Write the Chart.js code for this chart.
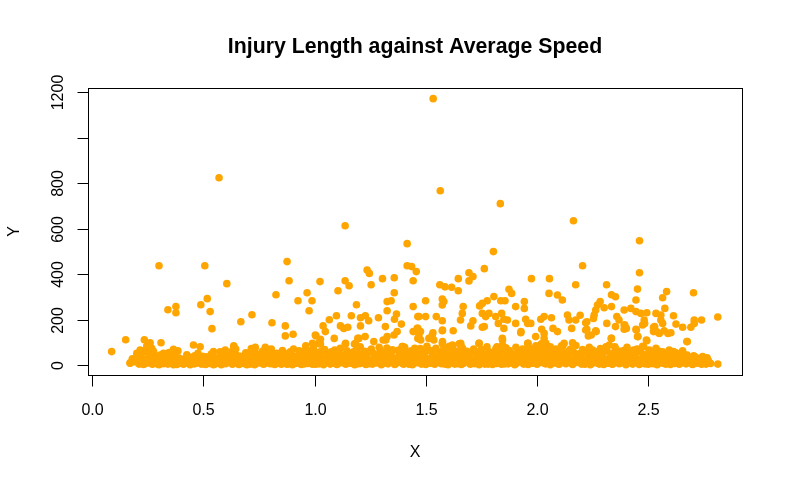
<!DOCTYPE html>
<html>
<head>
<meta charset="utf-8">
<title>Injury Length against Average Speed</title>
<script src="https://cdn.jsdelivr.net/npm/chart.js@4.4.1/dist/chart.umd.min.js"></script>
<style>
    html, body { margin: 0; padding: 0; background: #ffffff; }
    canvas { display: block; }
</style>
</head>
<body>
<canvas id="scatterChart" width="787" height="486"></canvas>
<script>
'use strict';

// ============================================================================
// DATA  (average speed, injury length) pairs
// ============================================================================

/** Isolated high values */
const outlierPoints = [
    [0.57, 824], [1.533, 1172], [1.565, 767], [1.835, 710], [2.164, 635],
    [1.137, 613], [2.461, 547], [1.416, 534], [1.804, 499], [0.876, 455],
    [0.300, 437], [0.506, 437], [2.205, 437], [1.416, 437], [1.436, 433],
    [1.763, 424], [1.236, 418], [1.457, 411], [2.461, 406], [1.694, 406],
    [1.246, 403], [1.712, 389], [1.358, 384], [1.305, 380], [1.975, 380],
    [2.056, 380], [1.646, 380], [0.885, 371], [1.137, 371], [1.443, 371],
    [1.694, 370], [1.024, 367], [0.605, 358], [1.254, 353], [1.563, 353],
    [2.174, 353], [2.313, 353], [1.155, 349], [1.586, 344], [1.616, 342],
    [2.452, 334], [1.874, 333], [1.105, 327], [1.646, 327], [2.583, 323],
    [0.966, 318], [1.358, 318], [2.704, 318], [1.886, 315], [2.054, 315],
    [0.826, 309], [2.335, 309], [2.092, 308], [1.806, 301], [2.353, 300],
    [2.565, 296], [0.517, 292], [1.574, 290], [2.114, 286], [2.445, 286]
];

/** Scattered values between the dense band and the outliers */
const midPoints = [
    [0.925, 283], [0.988, 283], [1.344, 283], [1.499, 283], [1.776, 283],
    [1.837, 283], [1.856, 283], [1.326, 279], [1.581, 279], [1.943, 279],
    [2.284, 279], [1.754, 271], [0.488, 265], [1.188, 265], [1.574, 264],
    [2.272, 264], [1.742, 260], [0.376, 257], [1.443, 257], [1.668, 257],
    [1.904, 257], [2.335, 257], [2.302, 252], [1.943, 249], [2.422, 249],
    [2.575, 249], [0.340, 243], [2.264, 242], [2.392, 242], [0.975, 239],
    [1.326, 239], [0.530, 235], [2.445, 235], [0.376, 230], [2.494, 230],
    [1.664, 227], [1.754, 227], [1.784, 227], [1.841, 227], [2.467, 227],
    [2.535, 227], [1.368, 224], [0.718, 221], [2.137, 220], [2.257, 220],
    [2.557, 220], [2.194, 219], [1.098, 217], [1.165, 217], [1.228, 217],
    [2.614, 217], [1.464, 213], [1.469, 213], [1.499, 213], [1.547, 213],
    [1.769, 213], [1.814, 213], [2.032, 213], [2.359, 213], [2.813, 211],
    [1.206, 208], [1.287, 208], [2.065, 208], [2.254, 205], [1.359, 201],
    [1.851, 201], [1.949, 201], [2.017, 201], [1.066, 199], [1.656, 198],
    [1.867, 198], [2.144, 198], [2.174, 198], [2.369, 198], [2.482, 198],
    [2.557, 198], [2.707, 198], [2.740, 198], [1.243, 195], [1.574, 195],
    [1.712, 195], [0.668, 190], [2.224, 190], [0.808, 186], [2.219, 186],
    [1.826, 183], [1.904, 183], [1.972, 183], [2.314, 183], [2.565, 183],
    [2.707, 183], [1.958, 183], [2.484, 183], [1.390, 180], [2.625, 180],
    [2.392, 176], [2.475, 176], [2.395, 176], [1.038, 172], [0.868, 172],
    [1.116, 172], [1.206, 172], [1.702, 172], [1.318, 169], [2.353, 169],
    [1.763, 169], [2.529, 169], [1.149, 166], [1.754, 166], [2.524, 166],
    [2.655, 166], [2.692, 166], [1.131, 161], [1.464, 161], [1.461, 161],
    [1.851, 161], [2.072, 161], [2.156, 161], [2.402, 161], [0.538, 160],
    [2.021, 157], [2.224, 157], [2.392, 157], [2.445, 157], [1.575, 154],
    [2.219, 154], [2.447, 154], [1.574, 151], [1.623, 151], [2.264, 151],
    [2.572, 151], [1.048, 147], [1.371, 147], [1.443, 147], [1.476, 147],
    [1.928, 147], [2.092, 147], [2.524, 147], [2.266, 147], [2.537, 147],
    [1.532, 142], [1.927, 142], [2.602, 142], [2.032, 139], [2.550, 139],
    [2.589, 139], [0.903, 135], [1.003, 132], [1.357, 132], [1.469, 132],
    [1.529, 132], [2.244, 132], [1.006, 128], [0.868, 128], [2.231, 128],
    [1.227, 125], [1.326, 125], [1.994, 125], [2.452, 125], [2.454, 125],
    [1.088, 117], [1.194, 117], [1.199, 117], [1.464, 117], [1.469, 117],
    [1.514, 117], [1.844, 117], [2.032, 117], [2.335, 117], [2.334, 117],
    [1.026, 113], [0.150, 111], [0.234, 111], [1.308, 110], [1.320, 110],
    [1.477, 110], [1.536, 110], [1.845, 110], [2.492, 110], [2.494, 107],
    [1.266, 103], [1.575, 103], [2.674, 103], [2.676, 103], [0.260, 98],
    [0.309, 98], [2.160, 98], [1.018, 95], [1.139, 95], [1.184, 95],
    [1.657, 95], [1.739, 95], [1.740, 95], [1.958, 95], [2.040, 95],
    [2.122, 95], [1.960, 95], [0.990, 95], [1.026, 92], [1.138, 92],
    [1.179, 92], [1.574, 93], [1.650, 93], [2.020, 93], [0.455, 88],
    [1.620, 88], [2.017, 88], [2.110, 85], [0.960, 85], [0.636, 84],
    [1.394, 81], [1.395, 81], [0.485, 80], [0.637, 80], [1.616, 80],
    [1.660, 80], [1.820, 80], [2.060, 80], [2.310, 80], [2.350, 80],
    [2.480, 80], [0.733, 78], [0.778, 78], [1.966, 73], [0.267, 73],
    [0.960, 70], [0.365, 69], [0.215, 66], [0.598, 66], [0.087, 59],
    [0.545, 59], [2.614, 59], [0.200, 51], [0.267, 51], [0.320, 51],
    [2.745, 37], [0.170, 10], [2.813, 4], [2.760, 7]
];

/** Dense band of short injuries along the bottom */
const bandPoints = [
    [0.17, 8], [0.18, 27], [0.19, 14], [0.21, 4], [0.21, 33], [0.22, 47], [0.22, 12], [0.23, 2],
    [0.24, 24], [0.24, 58], [0.25, 9], [0.26, 36], [0.27, 17], [0.27, 3], [0.28, 42], [0.29, 11],
    [0.29, 29], [0.30, 1], [0.31, 21], [0.32, 6], [0.33, 13], [0.33, 37], [0.34, 4], [0.35, 26],
    [0.36, 49], [0.36, 9], [0.37, 16], [0.38, 2], [0.39, 31], [0.39, 7], [0.40, 19], [0.41, 3],
    [0.42, 27], [0.43, 11], [0.44, 1], [0.44, 34], [0.45, 18], [0.46, 5], [0.46, 41], [0.47, 13],
    [0.48, 29], [0.49, 4], [0.49, 21], [0.50, 10], [0.51, 36], [0.51, 2], [0.52, 16], [0.53, 7],
    [0.53, 26], [0.54, 45], [0.55, 3], [0.55, 19], [0.56, 11], [0.57, 31], [0.58, 1], [0.58, 23],
    [0.59, 52], [0.60, 14], [0.60, 6], [0.61, 37], [0.62, 20], [0.63, 3], [0.63, 61], [0.64, 27],
    [0.65, 10], [0.65, 42], [0.66, 2], [0.67, 18], [0.68, 33], [0.68, 7], [0.69, 54], [0.70, 13],
    [0.70, 24], [0.71, 4], [0.72, 39], [0.72, 16], [0.73, 1], [0.73, 66], [0.74, 28], [0.75, 9],
    [0.75, 47], [0.76, 20], [0.77, 3], [0.77, 35], [0.78, 12], [0.79, 57], [0.79, 25], [0.80, 6],
    [0.81, 40], [0.81, 15], [0.82, 2], [0.83, 30], [0.83, 51], [0.84, 10], [0.85, 21], [0.85, 3],
    [0.86, 44], [0.87, 13], [0.87, 33], [0.88, 5], [0.89, 58], [0.89, 24], [0.90, 1], [0.91, 16],
    [0.91, 38], [0.92, 8], [0.93, 27], [0.93, 62], [0.94, 2], [0.95, 14], [0.95, 46], [0.96, 31],
    [0.97, 7], [0.97, 20], [0.98, 52], [0.99, 3], [0.99, 36], [1.00, 12], [1.01, 25], [1.01, 43],
    [1.02, 5], [1.03, 18], [1.03, 60], [1.04, 1], [1.05, 30], [1.05, 11], [1.06, 49], [1.07, 22],
    [1.07, 4], [1.08, 38], [1.09, 14], [1.09, 66], [1.10, 2], [1.11, 27], [1.11, 9], [1.12, 45],
    [1.13, 17], [1.13, 33], [1.14, 3], [1.15, 56], [1.15, 21], [1.16, 8], [1.17, 40], [1.17, 13],
    [1.18, 1], [1.19, 29], [1.19, 71], [1.20, 6], [1.21, 19], [1.21, 48], [1.22, 11], [1.23, 35],
    [1.23, 2], [1.24, 24], [1.25, 62], [1.25, 15], [1.26, 4], [1.27, 42], [1.27, 28], [1.28, 9],
    [1.29, 19], [1.29, 78], [1.30, 1], [1.31, 33], [1.31, 12], [1.32, 53], [1.33, 22], [1.33, 5],
    [1.34, 39], [1.35, 15], [1.35, 67], [1.36, 2], [1.37, 29], [1.37, 9], [1.38, 47], [1.39, 18],
    [1.39, 35], [1.40, 3], [1.41, 59], [1.41, 24], [1.42, 7], [1.43, 43], [1.43, 14], [1.44, 1],
    [1.45, 31], [1.45, 74], [1.46, 10], [1.47, 21], [1.47, 52], [1.48, 4], [1.49, 37], [1.49, 16],
    [1.50, 2], [1.51, 27], [1.51, 64], [1.52, 8], [1.53, 45], [1.53, 19], [1.54, 3], [1.55, 34],
    [1.55, 12], [1.56, 56], [1.57, 25], [1.57, 6], [1.58, 41], [1.59, 15], [1.59, 70], [1.60, 1],
    [1.61, 30], [1.61, 10], [1.62, 49], [1.63, 20], [1.63, 4], [1.64, 38], [1.65, 13], [1.65, 61],
    [1.66, 2], [1.67, 26], [1.67, 8], [1.68, 46], [1.69, 17], [1.69, 33], [1.70, 3], [1.71, 55],
    [1.71, 22], [1.72, 6], [1.73, 40], [1.73, 12], [1.74, 1], [1.75, 29], [1.75, 68], [1.76, 9],
    [1.77, 18], [1.77, 48], [1.78, 4], [1.79, 35], [1.79, 14], [1.80, 2], [1.81, 25], [1.81, 58],
    [1.82, 7], [1.83, 43], [1.83, 20], [1.84, 3], [1.85, 32], [1.85, 11], [1.86, 76], [1.87, 23],
    [1.87, 5], [1.88, 51], [1.89, 15], [1.89, 37], [1.90, 1], [1.91, 28], [1.91, 9], [1.92, 63],
    [1.93, 19], [1.93, 44], [1.94, 4], [1.95, 34], [1.95, 13], [1.96, 2], [1.97, 24], [1.97, 57],
    [1.98, 8], [1.99, 40], [1.99, 17], [2.00, 3], [2.01, 30], [2.01, 72], [2.02, 11], [2.03, 21],
    [2.03, 49], [2.04, 5], [2.05, 36], [2.05, 14], [2.06, 1], [2.07, 26], [2.07, 62], [2.08, 9],
    [2.09, 44], [2.09, 18], [2.10, 3], [2.11, 33], [2.11, 12], [2.12, 54], [2.13, 22], [2.13, 6],
    [2.14, 39], [2.15, 15], [2.15, 69], [2.16, 2], [2.17, 28], [2.17, 10], [2.18, 47], [2.19, 19],
    [2.19, 35], [2.20, 4], [2.21, 57], [2.21, 24], [2.22, 7], [2.23, 42], [2.23, 13], [2.24, 1],
    [2.25, 31], [2.25, 66], [2.26, 10], [2.27, 20], [2.27, 50], [2.28, 4], [2.29, 37], [2.29, 16],
    [2.30, 2], [2.31, 26], [2.31, 73], [2.32, 8], [2.33, 45], [2.33, 19], [2.34, 3], [2.35, 34],
    [2.35, 12], [2.36, 58], [2.37, 24], [2.37, 6], [2.38, 41], [2.39, 15], [2.39, 64], [2.40, 1],
    [2.41, 30], [2.41, 10], [2.42, 48], [2.43, 21], [2.43, 4], [2.44, 37], [2.45, 13], [2.45, 70],
    [2.46, 2], [2.47, 27], [2.47, 8], [2.48, 45], [2.49, 17], [2.49, 33], [2.50, 3], [2.51, 53],
    [2.51, 22], [2.52, 6], [2.53, 39], [2.53, 12], [2.54, 1], [2.55, 28], [2.55, 60], [2.56, 9],
    [2.57, 18], [2.57, 44], [2.58, 4], [2.59, 33], [2.59, 14], [2.60, 2], [2.61, 23], [2.61, 51],
    [2.62, 7], [2.63, 38], [2.63, 17], [2.64, 3], [2.65, 29], [2.65, 10], [2.66, 46], [2.67, 19],
    [2.67, 5], [2.68, 31], [2.69, 12], [2.70, 2], [2.70, 24], [2.71, 36], [2.72, 8], [2.73, 18],
    [2.74, 3], [2.75, 28], [2.75, 11], [2.76, 4], [2.77, 21], [2.78, 7]
];

/** Upper edge of the band, where it thickens into clumps */
const bandTopPoints = [
    [0.205, 40], [0.225, 63], [0.245, 85], [0.255, 47], [0.275, 60], [0.285, 22], [0.305, 44],
    [0.325, 28], [0.345, 55], [0.355, 18], [0.375, 35], [0.385, 62], [0.405, 25], [0.425, 45],
    [0.455, 30], [0.475, 52], [0.495, 38], [0.515, 24], [0.535, 48], [0.555, 32], [0.575, 58],
    [0.595, 36], [0.615, 22], [0.625, 48], [0.645, 70], [0.665, 38], [0.685, 25], [0.705, 50],
    [0.715, 72], [0.735, 42], [0.755, 30], [0.765, 60], [0.785, 46], [0.805, 70], [0.815, 28],
    [0.835, 40], [0.855, 64], [0.865, 52], [0.885, 42], [0.905, 70], [0.915, 28], [0.935, 50],
    [0.945, 36], [0.965, 66], [0.985, 44], [0.995, 72], [1.015, 55], [1.025, 34], [1.045, 68],
    [1.055, 42], [1.075, 58], [1.085, 30], [1.105, 52], [1.115, 74], [1.135, 44], [1.145, 62],
    [1.165, 32], [1.175, 58], [1.195, 46], [1.205, 80], [1.225, 60], [1.235, 40], [1.255, 70],
    [1.265, 52], [1.285, 36], [1.295, 62], [1.315, 48], [1.325, 75], [1.345, 56], [1.355, 30],
    [1.375, 65], [1.385, 50], [1.405, 78], [1.415, 40], [1.435, 62], [1.445, 50], [1.465, 38],
    [1.475, 72], [1.495, 55], [1.505, 82], [1.525, 62], [1.535, 35], [1.545, 74], [1.565, 48],
    [1.575, 64], [1.595, 52], [1.605, 82], [1.625, 66], [1.635, 38], [1.655, 52], [1.665, 74],
    [1.685, 60], [1.695, 44], [1.715, 70], [1.725, 52], [1.745, 62], [1.755, 36], [1.775, 80],
    [1.785, 58], [1.805, 46], [1.815, 72], [1.835, 60], [1.845, 88], [1.865, 52], [1.875, 64],
    [1.895, 48], [1.905, 78], [1.925, 56], [1.935, 70], [1.955, 46], [1.965, 66], [1.985, 58],
    [1.995, 84], [2.015, 50], [2.025, 64], [2.045, 76], [2.055, 52], [2.075, 44], [2.085, 70],
    [2.105, 60], [2.115, 80], [2.135, 48], [2.145, 62], [2.165, 56], [2.175, 86], [2.195, 50],
    [2.205, 68], [2.225, 60], [2.235, 78], [2.255, 46], [2.265, 58], [2.285, 72], [2.295, 52],
    [2.315, 62], [2.325, 88], [2.345, 54], [2.355, 70], [2.375, 60], [2.385, 46], [2.405, 78],
    [2.415, 56], [2.435, 66], [2.445, 50], [2.465, 60], [2.475, 82], [2.495, 48], [2.505, 66],
    [2.525, 52], [2.535, 74], [2.555, 42], [2.565, 58], [2.585, 50], [2.595, 66], [2.615, 40],
    [2.625, 54], [2.645, 36], [2.655, 62], [2.675, 44], [2.685, 28], [2.705, 40], [2.725, 30],
    [2.745, 22], [2.765, 32]
];

/** Extra short injuries filling the bottom of the band */
const bandFillPoints = [
    [0.215, 18], [0.235, 6], [0.265, 12], [0.295, 3], [0.315, 14], [0.335, 8], [0.365, 1],
    [0.395, 14], [0.415, 8], [0.435, 20], [0.465, 8], [0.485, 15], [0.505, 4], [0.525, 12],
    [0.545, 1], [0.565, 18], [0.585, 9], [0.605, 28], [0.635, 15], [0.655, 5], [0.675, 12],
    [0.695, 1], [0.725, 10], [0.745, 17], [0.775, 7], [0.795, 14], [0.825, 5], [0.845, 12],
    [0.875, 3], [0.895, 10], [0.925, 16], [0.955, 5], [0.975, 28], [1.005, 3], [1.035, 10],
    [1.065, 15], [1.095, 6], [1.125, 10], [1.155, 14], [1.185, 4], [1.215, 10], [1.245, 6],
    [1.275, 14], [1.305, 5], [1.335, 13], [1.365, 20], [1.395, 8], [1.425, 3], [1.455, 16],
    [1.485, 8], [1.515, 12], [1.545, 20], [1.585, 4], [1.615, 12], [1.645, 6], [1.675, 14],
    [1.705, 9], [1.735, 18], [1.765, 4], [1.795, 8], [1.825, 14], [1.855, 5], [1.885, 10],
    [1.915, 16], [1.945, 24], [1.975, 12], [2.005, 18], [2.035, 7], [2.065, 12], [2.095, 5],
    [2.125, 15], [2.155, 8], [2.185, 12], [2.215, 3], [2.245, 14], [2.275, 8], [2.305, 14],
    [2.335, 5], [2.365, 14], [2.395, 8], [2.425, 12], [2.455, 20], [2.485, 5], [2.515, 12],
    [2.545, 15], [2.575, 6], [2.605, 12], [2.635, 8], [2.665, 14], [2.695, 6], [2.715, 14],
    [2.735, 10], [2.755, 16]
];

/** Axis tick values (R drops the 1000 label because it would overlap) */
const xTicks = [0.0, 0.5, 1.0, 1.5, 2.0, 2.5];
const yTicks = [0, 200, 400, 600, 800, 1000, 1200];
const yTickLabels = ['0', '200', '400', '600', '800', '', '1200'];

const CHART_TITLE = 'Injury Length against Average Speed';
const X_TITLE = 'X';
const Y_TITLE = 'Y';

// ============================================================================
// R-STYLE FRAME PLUGIN
// ============================================================================

const FONT_FAMILY = '"Liberation Sans", Arial, sans-serif';

/**
 * Draws the base-graphics look: box, outward ticks, rotated y labels, titles.
 */
const rFramePlugin = {
    id: 'rFrame',
    beforeDraw(chart) {
        const ctx = chart.ctx;
        ctx.save();
        ctx.fillStyle = '#ffffff';
        ctx.fillRect(0, 0, chart.width, chart.height);
        ctx.restore();
    },
    afterDraw(chart) {
        const { ctx, chartArea } = chart;
        const xScale = chart.scales.x;
        const yScale = chart.scales.y;
        const tickLen = 11;

        ctx.save();
        ctx.strokeStyle = '#000000';
        ctx.fillStyle = '#000000';
        ctx.lineWidth = 1;

        // Plot box
        ctx.strokeRect(
            Math.round(chartArea.left) + 0.5,
            Math.round(chartArea.top) + 0.5,
            Math.round(chartArea.right - chartArea.left),
            Math.round(chartArea.bottom - chartArea.top)
        );

        // X axis ticks and labels
        ctx.font = '16px ' + FONT_FAMILY;
        ctx.textAlign = 'center';
        ctx.textBaseline = 'alphabetic';
        const bottom = Math.round(chartArea.bottom) + 0.5;
        xTicks.forEach(value => {
            const px = Math.round(xScale.getPixelForValue(value)) + 0.5;
            ctx.beginPath();
            ctx.moveTo(px, bottom);
            ctx.lineTo(px, bottom + tickLen);
            ctx.stroke();
            ctx.fillText(value.toFixed(1), px, 415);
        });

        // Y axis ticks and rotated labels
        const left = Math.round(chartArea.left) + 0.5;
        yTicks.forEach((value, i) => {
            const py = Math.round(yScale.getPixelForValue(value)) + 0.5;
            ctx.beginPath();
            ctx.moveTo(left, py);
            ctx.lineTo(left - tickLen, py);
            ctx.stroke();
            if (yTickLabels[i]) {
                ctx.save();
                ctx.translate(63, py);
                ctx.rotate(-Math.PI / 2);
                ctx.fillText(yTickLabels[i], 0, 0);
                ctx.restore();
            }
        });

        const midX = (chartArea.left + chartArea.right) / 2;
        const midY = (chartArea.top + chartArea.bottom) / 2;

        // Axis titles
        ctx.fillText(X_TITLE, midX, 457);
        ctx.save();
        ctx.translate(19, midY);
        ctx.rotate(-Math.PI / 2);
        ctx.fillText(Y_TITLE, 0, 0);
        ctx.restore();

        // Main title
        ctx.font = 'bold 21.3px ' + FONT_FAMILY;
        ctx.fillText(CHART_TITLE, midX, 53);

        ctx.restore();
    }
};

// ============================================================================
// CHART RENDERING
// ============================================================================

/**
 * Builds the scatter chart from the point arrays.
 */
function renderScatterChart() {
    const canvas = document.getElementById('scatterChart');
    if (!canvas) return;

    const allPoints = bandPoints.concat(bandFillPoints, bandTopPoints, midPoints, outlierPoints)
        .map(([x, y]) => ({ x, y }));

    new Chart(canvas.getContext('2d'), {
        type: 'scatter',
        data: {
            datasets: [{
                label: 'Injury length',
                data: allPoints,
                pointRadius: 3.8,
                pointHoverRadius: 3.8,
                pointBackgroundColor: '#FFA500',
                pointBorderWidth: 0,
                borderWidth: 0
            }]
        },
        options: {
            responsive: false,
            devicePixelRatio: 1,
            animation: false,
            events: [],
            layout: {
                padding: { left: 88, right: 45, top: 88, bottom: 111 }
            },
            plugins: {
                legend: { display: false },
                title: { display: false },
                tooltip: { enabled: false }
            },
            scales: {
                x: { type: 'linear', min: -0.0194, max: 2.922, display: false },
                y: { type: 'linear', min: -44, max: 1218.9, display: false }
            }
        },
        plugins: [rFramePlugin]
    });

    canvas.setAttribute('role', 'img');
    canvas.setAttribute('aria-label', 'Scatter plot of injury length against average speed');
}

renderScatterChart();
</script>
</body>
</html>
